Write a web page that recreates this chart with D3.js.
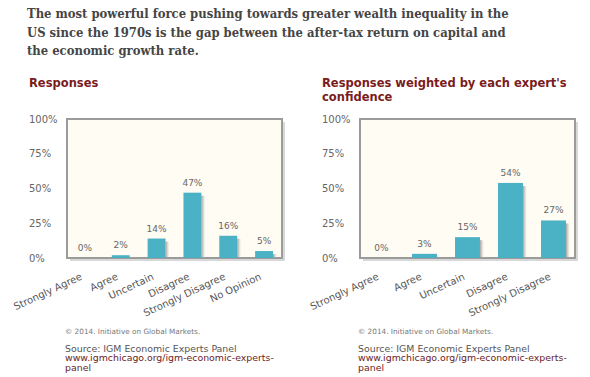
<!DOCTYPE html>
<html>
<head>
<meta charset="utf-8">
<script src="https://cdn.jsdelivr.net/npm/d3@7"></script>
<style>
  body { margin: 0; background: #fff; }
  svg text { font-family: "DejaVu Sans", Verdana, sans-serif; }
</style>
</head>
<body>
<div id="chart"></div>
<script>
// chart data
let titleLines = [
    "The most powerful force pushing towards greater wealth inequality in the",
    "US since the 1970s is the gap between the after-tax return on capital and",
    "the economic growth rate."
];
let leftTitle = ["Responses"];
let leftCategories = ["Strongly Agree", "Agree", "Uncertain", "Disagree", "Strongly Disagree", "No Opinion"];
let leftValues = [0, 2, 14, 47, 16, 5];
let rightTitle = ["Responses weighted by each expert's", "confidence"];
let rightCategories = ["Strongly Agree", "Agree", "Uncertain", "Disagree", "Strongly Disagree"];
let rightValues = [0, 3, 15, 54, 27];
let yTicks = [0, 25, 50, 75, 100];
let footer = ["© 2014. Initiative on Global Markets.", "Source: IGM Economic Experts Panel",
    "www.igmchicago.org/igm-economic-experts-", "panel"];

let svg = d3.select("#chart").append("svg")
    .attr("width", 590)
    .attr("height", 377);

let defs = svg.append("defs");
let grad = defs.append("linearGradient").attr("id", "barShadow");
grad.append("stop").attr("offset", "0%").attr("stop-color", "#8a8a8a").attr("stop-opacity", 0.8);
grad.append("stop").attr("offset", "100%").attr("stop-color", "#bbb").attr("stop-opacity", 0);

// main title
let title = svg.append("g").attr("class", "title");
titleLines.forEach((t, i) => {
    title.append("text")
        .attr("x", 27)
        .attr("y", 18 + i * 18.5)
        .style("font-family", "'DejaVu Serif Condensed', 'DejaVu Serif', Georgia, serif")
        .style("font-weight", "bold")
        .style("font-size", "14px")
        .attr("fill", "#454545")
        .text(t);
});
// fit to the width of the original title block
let w0 = title.select("text").node().getComputedTextLength();
let fs = 14 * 482 / w0;
title.selectAll("text").style("font-size", fs + "px");

function drawPanel(left, labelX, heading, categories, values, padding) {
    let box = {x: left, y: 119, w: 215, h: 139};
    let g = svg.append("g");

    heading.forEach((t, i) => {
        g.append("text")
            .attr("x", labelX)
            .attr("y", 87 + i * 14)
            .attr("fill", "#7a1c1c")
            .style("font-weight", "bold")
            .style("font-size", "11.5px")
            .text(t);
    });

    let x = d3.scaleBand()
        .domain(categories)
        .range([box.x, box.x + box.w])
        .paddingInner(padding)
        .paddingOuter(padding / 2);
    let y = d3.scaleLinear()
        .domain([0, 100])
        .range([box.y + box.h, box.y]);

    // box shadow + frame
    g.append("rect")
        .attr("x", box.x + 3).attr("y", box.y + 3)
        .attr("width", box.w).attr("height", box.h)
        .attr("fill", "#d8d8d8");
    g.append("rect")
        .attr("x", box.x).attr("y", box.y)
        .attr("width", box.w).attr("height", box.h)
        .attr("fill", "#fffcf3")
        .attr("stroke", "#9b9b9b")
        .attr("stroke-width", 2);

    // y tick labels
    g.selectAll(".ytick")
        .data(yTicks)
        .enter().append("text")
        .attr("class", "ytick")
        .attr("x", labelX)
        .attr("y", d => y(d))
        .attr("dy", "0.35em")
        .attr("fill", "#666")
        .style("font-size", "10px")
        .text(d => d + "%");

    let data = categories.map((c, i) => ({cat: c, val: values[i]}));

    g.selectAll(".shadow")
        .data(data.filter(d => d.val > 0))
        .enter().append("rect")
        .attr("class", "shadow")
        .attr("x", d => x(d.cat) + x.bandwidth())
        .attr("y", d => y(d.val) + 3)
        .attr("width", 4)
        .attr("height", d => y(0) - y(d.val) - 3)
        .attr("fill", "url(#barShadow)");

    g.selectAll(".bar")
        .data(data)
        .enter().append("rect")
        .attr("class", "bar")
        .attr("x", d => x(d.cat))
        .attr("y", d => y(d.val))
        .attr("width", x.bandwidth())
        .attr("height", d => y(0) - y(d.val))
        .attr("fill", "#4bb1c5");

    g.selectAll(".vlabel")
        .data(data)
        .enter().append("text")
        .attr("class", "vlabel")
        .attr("x", d => x(d.cat) + x.bandwidth() / 2)
        .attr("y", d => y(d.val) - 7)
        .attr("text-anchor", "middle")
        .attr("fill", "#666")
        .style("font-size", "9px")
        .text(d => d.val + "%");

    g.selectAll(".xlabel")
        .data(categories)
        .enter().append("text")
        .attr("class", "xlabel")
        .attr("transform", d => "translate(" + (x(d) + x.bandwidth() / 2 - 2) + "," + 279 + ") rotate(-25)")
        .attr("text-anchor", "end")
        .attr("fill", "#555")
        .style("font-size", "10px")
        .text(d => d);

    // footer
    let fx = box.x - 2;
    g.append("text").attr("x", fx).attr("y", 334)
        .attr("fill", "#777").style("font-size", "7.3px").text(footer[0]);
    g.append("text").attr("x", fx).attr("y", 351.5)
        .attr("fill", "#555").style("font-size", "9.4px").text(footer[1]);
    g.append("text").attr("x", fx).attr("y", 361)
        .attr("fill", "#6b1d1d").style("font-size", "9.4px").text(footer[2]);
    g.append("text").attr("x", fx).attr("y", 370.5)
        .attr("fill", "#6b1d1d").style("font-size", "9.4px").text(footer[3]);
}

drawPanel(67, 29, leftTitle, leftCategories, leftValues, 0.5);
drawPanel(360, 322, rightTitle, rightCategories, rightValues, 0.42);
</script>
</body>
</html>
